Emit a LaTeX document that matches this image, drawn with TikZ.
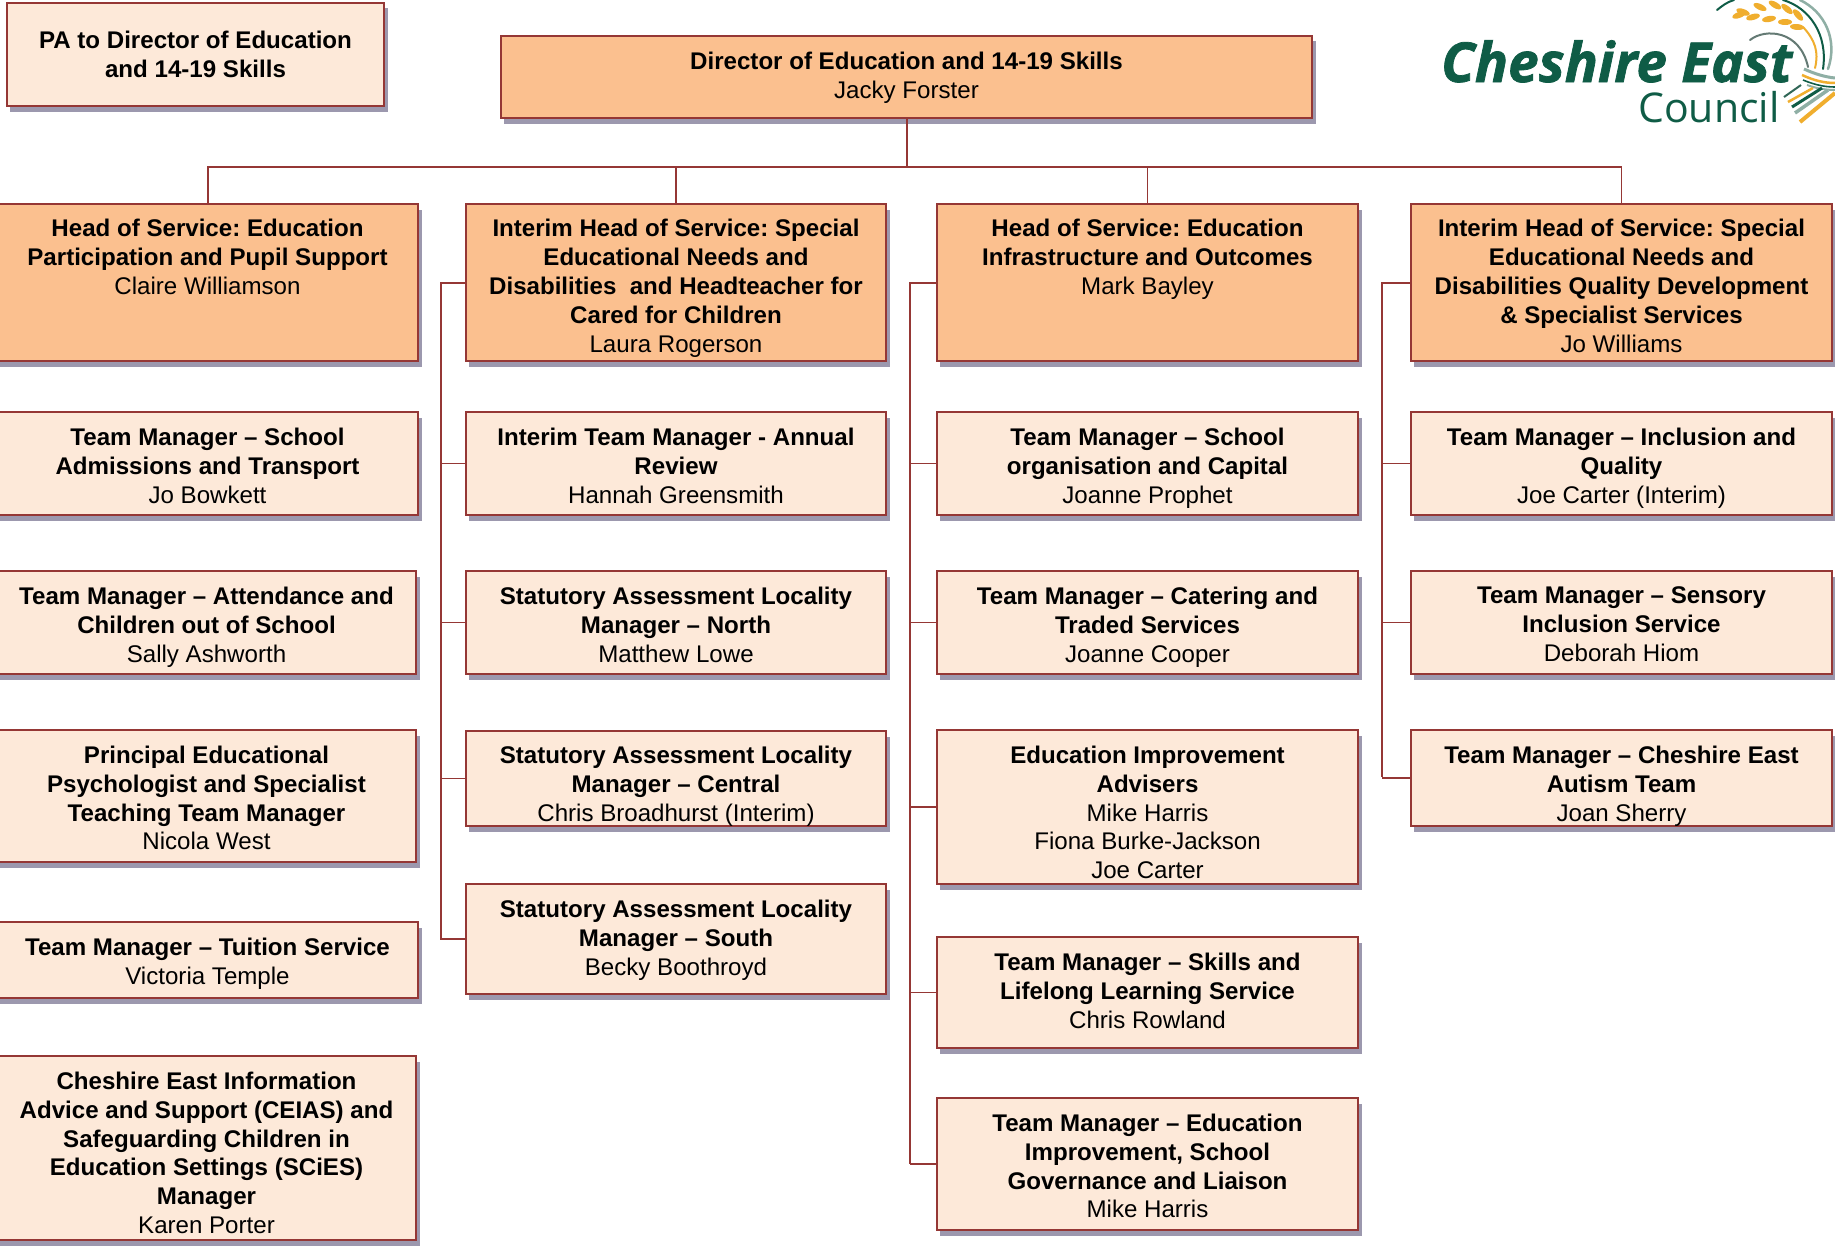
\documentclass[tikz,border=0pt]{standalone}
\usepackage{fontspec}
\setmainfont{Liberation Sans}
\newfontfamily\logofont{Open Sans}[BoldItalicFeatures={FakeBold=1.3}]
\definecolor{boxline}{HTML}{953735}
\definecolor{lightfill}{HTML}{FDE9D9}
\definecolor{darkfill}{HTML}{FBC08F}
\definecolor{shadowcol}{HTML}{9C98AE}
\definecolor{logogreen}{HTML}{0F5C46}
\definecolor{logoyellow}{HTML}{F0AE2E}
\definecolor{logogrey}{HTML}{8FAFA5}
\tikzset{
  x=1pt,y=-1pt,
  wire/.style={draw=boxline,line width=1.9pt},
  boxbase/.style={draw=boxline,line width=2.7pt,inner sep=0pt,outer sep=0pt,anchor=north west,
    font=\fontsize{24.1}{28.8}\selectfont\frenchspacing,text=black},
  lightbox/.style={boxbase,fill=lightfill},
  darkbox/.style={boxbase,fill=darkfill},
  swoosh/.style={line width=2pt,line cap=round},
}
% name, x0, y0, x1, y1, style, first-line offset, text
\newcommand{\orgbox}[8]{%
  \pgfmathsetmacro{\bw}{#4-#2}\pgfmathsetmacro{\bh}{#5-#3}%
  \fill[shadowcol] (#2+3,#3+5.5) rectangle (#4+3.5,#5+6);
  \node[#6] (#1) at (#2,#3) {\parbox[c][\bh pt][t]{\bw pt}{\vspace*{#7pt}\centering #8\par}};
}
\newcommand{\role}[1]{\textbf{#1}}
\begin{document}
\begin{tikzpicture}
\useasboundingbox (0,0) rectangle (1835,1247);
\fill[white] (0,0) rectangle (1835,1247);

% logo
\begin{scope}
\clip (1400,0) rectangle (1835,130);
\node[anchor=base west,inner sep=0pt,text=logogreen,font=\logofont\fontsize{55}{56}\selectfont\bfseries\itshape] (logoa) at (1441,82) {Cheshire East};
\node[anchor=base west,inner sep=0pt,text=logogreen,font=\logofont\fontsize{41}{41}\selectfont] (logob) at (1638,122) {Council};
\draw[swoosh,logogreen] (1717,10) .. controls (1722,6) and (1727,2) .. (1734,0);
\draw[swoosh,logogreen] (1783,0) .. controls (1810,8) and (1828,35) .. (1823,69);
\draw[swoosh,logogrey,line width=2.5pt] (1800,0) .. controls (1825,12) and (1838,40) .. (1828,69);
\draw[swoosh,logoyellow] (1803,27) .. controls (1815,40) and (1819,52) .. (1815,68);
\draw[swoosh,logogrey!70!black] (1750,40) .. controls (1765,28) and (1800,30) .. (1808,67);
\foreach \a/\b/\c in {1743/12/-20,1760/7/-25,1775/5/-30,1787/9/-40,1798/15/-50,1739/15/20,1753/17/15,1769/19/10,1785/22/0,1797/27/-5}{
  \fill[logoyellow] (\a,\b) ellipse[x radius=7pt,y radius=3pt,rotate=\c];
}
\draw[logogrey,line width=3pt] (1804,69) .. controls (1815,74) and (1825,77) .. (1835,78);
\draw[logoyellow,line width=2.5pt] (1802,75) .. controls (1815,81) and (1825,83) .. (1835,83);
\draw[logogreen,line width=1.6pt] (1803,80) .. controls (1815,85) and (1825,87) .. (1835,87);
\draw[logogrey,line width=2pt] (1807,85) .. controls (1815,88) and (1825,90) .. (1835,90);
\draw[logogreen!70!gray,line width=2pt] (1784,97) -- (1801,85);
\draw[logoyellow,line width=2.5pt] (1788,102) -- (1813,88);
\draw[logogreen,line width=3pt] (1792,107) -- (1822,88);
\draw[logogrey,line width=3.5pt] (1795,113) -- (1828,90);
\draw[logoyellow,line width=4pt] (1800,122) -- (1835,93);
\end{scope}

% boxes
\orgbox{pa}{7}{3}{384}{106}{lightbox}{28}{\role{PA to Director of Education\\and 14-19 Skills}}
\orgbox{dir}{501}{36}{1312}{118}{darkbox}{16}{\role{Director of Education and 14-19 Skills}\\Jacky Forster}

\orgbox{h1}{-3}{204}{418}{361}{darkbox}{15.5}{\role{Head of Service: Education\\Participation and Pupil Support}\\Claire Williamson}
\orgbox{h2}{466}{204}{886}{361}{darkbox}{15.5}{\role{Interim Head of Service: Special\\Educational Needs and\\Disabilities\ \ and Headteacher for\\Cared for Children}\\Laura Rogerson}
\orgbox{h3}{937}{204}{1358}{361}{darkbox}{15.5}{\role{Head of Service: Education\\Infrastructure and Outcomes}\\Mark Bayley}
\orgbox{h4}{1411}{204}{1832}{361}{darkbox}{15.5}{\role{Interim Head of Service: Special\\Educational Needs and\\Disabilities Quality Development\\\& Specialist Services}\\Jo Williams}

\orgbox{a1}{-3}{412}{418}{515}{lightbox}{16}{\role{Team Manager – School\\Admissions and Transport}\\Jo Bowkett}
\orgbox{a2}{-3}{571}{416}{674}{lightbox}{16}{\role{Team Manager – Attendance and\\Children out of School}\\Sally Ashworth}
\orgbox{a3}{-3}{730}{416}{862}{lightbox}{16}{\role{Principal Educational\\Psychologist and Specialist\\Teaching Team Manager}\\Nicola West}
\orgbox{a4}{-3}{922}{418}{998}{lightbox}{16}{\role{Team Manager – Tuition Service}\\Victoria Temple}
\orgbox{a5}{-3}{1056}{416}{1240}{lightbox}{16}{\role{Cheshire East Information\\Advice and Support (CEIAS) and\\Safeguarding Children in\\Education Settings (SCiES)\\Manager}\\Karen Porter}

\orgbox{b1}{466}{412}{886}{515}{lightbox}{16}{\role{Interim Team Manager - Annual\\Review}\\Hannah Greensmith}
\orgbox{b2}{466}{571}{886}{674}{lightbox}{16}{\role{Statutory Assessment Locality\\Manager – North}\\Matthew Lowe}
\orgbox{b3}{466}{731}{886}{826}{lightbox}{15.5}{\role{Statutory Assessment Locality\\Manager – Central}\\Chris Broadhurst (Interim)}
\orgbox{b4}{466}{884}{886}{994}{lightbox}{16}{\role{Statutory Assessment Locality\\Manager – South}\\Becky Boothroyd}

\orgbox{c1}{937}{412}{1358}{515}{lightbox}{16}{\role{Team Manager – School\\organisation and Capital}\\Joanne Prophet}
\orgbox{c2}{937}{571}{1358}{674}{lightbox}{16}{\role{Team Manager – Catering and\\Traded Services}\\Joanne Cooper}
\orgbox{c3}{937}{730}{1358}{884}{lightbox}{16}{\role{Education Improvement\\Advisers}\\Mike Harris\\Fiona Burke-Jackson\\Joe Carter}
\orgbox{c4}{937}{937}{1358}{1048}{lightbox}{16}{\role{Team Manager – Skills and\\Lifelong Learning Service}\\Chris Rowland}
\orgbox{c5}{937}{1098}{1358}{1230}{lightbox}{16}{\role{Team Manager – Education\\Improvement, School\\Governance and Liaison}\\Mike Harris}

\orgbox{d1}{1411}{412}{1832}{515}{lightbox}{16}{\role{Team Manager – Inclusion and\\Quality}\\Joe Carter (Interim)}
\orgbox{d2}{1411}{571}{1832}{674}{lightbox}{16}{\role{Team Manager – Sensory\\Inclusion Service}\\Deborah Hiom}
\orgbox{d3}{1411}{730}{1832}{826}{lightbox}{16}{\role{Team Manager – Cheshire East\\Autism Team}\\Joan Sherry}

% connectors
\coordinate (bus) at (907,167);
\draw[wire] (dir.south -| bus) -- (bus);
\draw[wire] (h1.north -| 208,0) |- (bus);
\draw[wire] (h2.north) |- (bus);
\draw[wire] (h3.north) |- (bus);
\draw[wire] (h4.north) |- (bus);

\coordinate (s2) at (441,283);
\coordinate (e2) at (441,940);
\draw[wire] (h2.west |- s2) -- (s2) -- (e2);
\foreach \n in {b1,b2,b3,b4}{\draw[wire] (\n.west) -- (\n.west -| s2);}

\coordinate (s3) at (910,283);
\coordinate (e3) at (910,1164);
\draw[wire] (h3.west |- s3) -- (s3) -- (e3);
\foreach \n in {c1,c2,c3,c4,c5}{\draw[wire] (\n.west) -- (\n.west -| s3);}

\coordinate (s4) at (1382,283);
\coordinate (e4) at (1382,777);
\draw[wire] (h4.west |- s4) -- (s4) -- (e4);
\foreach \n in {d1,d2,d3}{\draw[wire] (\n.west) -- (\n.west -| s4);}
\end{tikzpicture}
\end{document}
